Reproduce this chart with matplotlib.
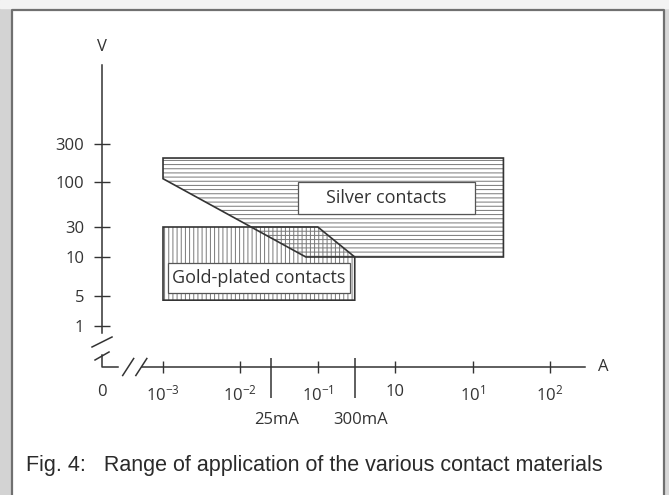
import numpy as np
import matplotlib.pyplot as plt
from matplotlib.patches import Polygon, Rectangle
from matplotlib.ticker import NullLocator

plt.rcParams['font.family'] = ['Open Sans', 'DejaVu Sans']
plt.rcParams['mathtext.fontset'] = 'custom'
plt.rcParams['mathtext.rm'] = 'Open Sans'
plt.rcParams['mathtext.it'] = 'Open Sans:italic'
plt.rcParams['hatch.linewidth'] = 0.7

# axis values
V_TICKS = [1, 5, 10, 30, 100, 300]
V_LABELS = ['1', '5', '10', '30', '100', '300']
A_TICKS = [1e-3, 1e-2, 1e-1, 1, 10, 100]
A_LABELS = [r'$10^{-3}$', r'$10^{-2}$', r'$10^{-1}$', '10', r'$10^{1}$', r'$10^{2}$']
MARK_A = [0.025, 0.3]
MARK_LABELS = ['25mA', '300mA']

# regions (current in A, voltage in V)
SILVER_A = [1e-3, 25, 25, 0.07, 1e-3]
SILVER_V = [200, 200, 10, 10, 110]
GOLD_A = [1e-3, 0.1, 0.3, 0.3, 1e-3]
GOLD_V = [30, 30, 10, 4, 4]

# layout: the voltage axis is not a true log axis, ticks are spaced by hand
TICK_POS = [41, 71, 110, 140, 185, 223]
LV = np.log10(V_TICKS)
LO = (TICK_POS[1] - TICK_POS[0]) / (LV[1] - LV[0])
HI = (TICK_POS[-1] - TICK_POS[-2]) / (LV[-1] - LV[-2])


def v_fwd(v):
    lv = np.log10(np.clip(np.asarray(v, dtype=float), 1e-12, None))
    out = np.interp(lv, LV, TICK_POS)
    out = np.where(lv < LV[0], TICK_POS[0] + (lv - LV[0]) * LO, out)
    out = np.where(lv > LV[-1], TICK_POS[-1] + (lv - LV[-1]) * HI, out)
    return out


def v_inv(p):
    p = np.asarray(p, dtype=float)
    lv = np.interp(p, TICK_POS, LV)
    lv = np.where(p < TICK_POS[0], LV[0] + (p - TICK_POS[0]) / LO, lv)
    lv = np.where(p > TICK_POS[-1], LV[-1] + (p - TICK_POS[-1]) / HI, lv)
    return 10 ** lv


X_ZERO = 10 ** -3.788
V_ZERO = float(v_inv(0))
INK = '#333333'

fig = plt.figure(figsize=(6.69, 4.95), dpi=100)
ax = fig.add_axes([0, 0, 1, 1])
ax.patch.set_visible(False)
ax.set_xscale('log')
ax.set_yscale('function', functions=(v_fwd, v_inv))
ax.set_xlim(10 ** -5.106, 10 ** 3.537)
ax.set_ylim(float(v_inv(-128)), float(v_inv(367)))

# frame around the figure
fig.patches.append(Rectangle((0, 0), 10 / 669, 1, transform=fig.transFigure,
                             color='#d3d3d3', zorder=-2))
fig.patches.append(Rectangle((665 / 669, 0), 4 / 669, 1, transform=fig.transFigure,
                             color='#d8d8d8', zorder=-2))
fig.patches.append(Rectangle((0, 1 - 8 / 495), 1, 8 / 495, transform=fig.transFigure,
                             color='#f3f3f3', zorder=-2))
fig.lines.append(plt.Line2D([11.5 / 669, 11.5 / 669, 663.5 / 669, 663.5 / 669],
                            [0, 1 - 10 / 495, 1 - 10 / 495, 0],
                            transform=fig.transFigure, color='#707070', lw=1.6))

# regions
ax.add_patch(Polygon(list(zip(SILVER_A, SILVER_V)), closed=True, facecolor='none',
                     edgecolor='#777777', lw=0, hatch='----', zorder=2))
ax.add_patch(Polygon(list(zip(GOLD_A, GOLD_V)), closed=True, facecolor='none',
                     edgecolor='#777777', lw=0, hatch='||||', zorder=2))
ax.add_patch(Polygon(list(zip(SILVER_A, SILVER_V)), closed=True, facecolor='none',
                     edgecolor=INK, lw=1.2, zorder=3))
ax.add_patch(Polygon(list(zip(GOLD_A, GOLD_V)), closed=True, facecolor='none',
                     edgecolor=INK, lw=1.2, zorder=3))

# label boxes
silver_box = Rectangle((0.0555, 42.5), 10.7 - 0.0555, 100 - 42.5, facecolor='white',
                       edgecolor='#555555', lw=0.9, zorder=4)
gold_box = Rectangle((1.16e-3, 5.3), 0.26 - 1.16e-3, 9.0 - 5.3, facecolor='white',
                     edgecolor='#555555', lw=0.9, zorder=4)
ax.add_patch(silver_box)
ax.add_patch(gold_box)
ax.annotate('Silver contacts', xy=(0.5, 0.5), xycoords=silver_box, ha='center',
            va='center', fontsize=13, color=INK, zorder=5)
ax.annotate('Gold-plated contacts', xy=(0.5, 0.5), xycoords=gold_box, ha='center',
            va='center', fontsize=13, color=INK, zorder=5)

# axes with breaks
for s in ['top', 'right']:
    ax.spines[s].set_visible(False)
ax.spines['left'].set_position(('data', X_ZERO))
ax.spines['bottom'].set_position(('data', V_ZERO))
ax.spines['left'].set_bounds(float(v_inv(34)), float(v_inv(302)))
ax.spines['bottom'].set_bounds(10 ** -3.271, 10 ** 2.452)
for s in ['left', 'bottom']:
    ax.spines[s].set_color(INK)
    ax.spines[s].set_linewidth(1.1)

ax.set_yticks(V_TICKS, V_LABELS)
ax.set_xticks([X_ZERO] + A_TICKS, ['0'] + A_LABELS)
ax.xaxis.set_minor_locator(NullLocator())
ax.yaxis.set_minor_locator(NullLocator())
ax.xaxis.get_major_ticks()[0].tick1line.set_visible(False)
ax.tick_params(axis='y', direction='inout', length=11.5, width=1.0, pad=7,
               labelsize=12, colors=INK)
ax.tick_params(axis='x', direction='inout', length=8.6, width=1.0, pad=8,
               labelsize=12, colors=INK)

ax.plot([X_ZERO, X_ZERO, 10 ** -3.581], [float(v_inv(12)), V_ZERO, V_ZERO],
        color=INK, lw=1.1)


def slash(xd, yd, hx, hy):
    cx, cy = ax.transData.transform((xd, yd))
    pts = ax.transData.inverted().transform([(cx - hx, cy - hy), (cx + hx, cy + hy)])
    ax.plot(pts[:, 0], pts[:, 1], color=INK, lw=1.1)


slash(X_ZERO, float(v_inv(25)), 10, 5)
slash(X_ZERO, float(v_inv(11)), 7, 4)
slash(10 ** -3.45, V_ZERO, 5.5, 8.5)
slash(10 ** -3.28, V_ZERO, 5.5, 8.5)

# 25mA / 300mA markers
ax.vlines(MARK_A, float(v_inv(-31)), float(v_inv(9)), color=INK, lw=1.1)
for a, lab in zip(MARK_A, MARK_LABELS):
    ax.annotate(lab, xy=(a, float(v_inv(-53))), xytext=(4, 0), textcoords='offset points',
                ha='center', va='center', fontsize=12, color=INK)

ax.text(X_ZERO, float(v_inv(320)), 'V', ha='center', va='center', fontsize=12, color=INK)
ax.text(10 ** 2.685, V_ZERO, 'A', ha='center', va='center', fontsize=12, color=INK)

fig.text(26 / 669, 1 - 466 / 495,
         'Fig. 4:   Range of application of the various contact materials',
         family='Liberation Sans', fontsize=15.5, color='#2a2a2a', va='center')

fig.savefig('out.png', dpi=100)
